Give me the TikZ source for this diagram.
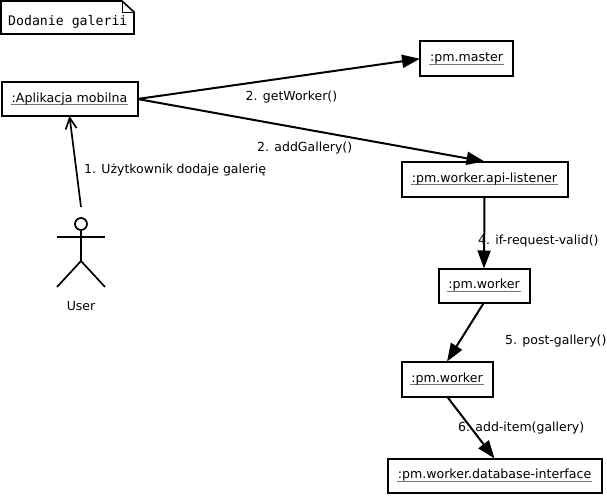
\documentclass[tikz,border=0pt]{standalone}
\usepackage{fontspec}
\setmainfont{DejaVu Sans}
\newfontfamily\notefont{DejaVu Sans Mono}
\usetikzlibrary{arrows.meta}
\newsavebox{\ulbox}
\newcommand{\ulname}[1]{\sbox{\ulbox}{#1}\rlap{\hspace{-1pt}\textcolor{ulgray}{\rule[-3.2pt]{\dimexpr\wd\ulbox+2pt\relax}{1.1pt}}}\usebox{\ulbox}}
\definecolor{ulgray}{gray}{0.45}
\tikzset{
  objbox/.style={draw=black,line width=2pt,fill=white,inner sep=0pt,outer sep=0pt,anchor=north west,font=\fontsize{12.6}{14}\selectfont,align=center},
  msg/.style={inner sep=0pt,anchor=base west,font=\fontsize{12.5}{14}\selectfont},
  call/.style={draw=black,line width=2pt,-{Triangle[length=18pt,width=13pt]}},
  stim/.style={draw=black,line width=1.7pt,-{Straight Barb[length=11pt,width=11pt,line width=1.7pt]}},
  actorline/.style={draw=black,line width=1.7pt},
  noteline/.style={draw=black,line width=1.6pt}
}
\begin{document}
\begin{tikzpicture}[x=1pt,y=-1pt]
\useasboundingbox (0,0) rectangle (607,495);
\fill[white] (0,0) rectangle (607,495);
% note
\draw[noteline,fill=white] (1,1) -- (122,1) -- (134,12) -- (134,34) -- (1,34) -- cycle;
\draw[line width=0.8pt] (122,1) -- (122,12) -- (134,12);
\node[inner sep=0pt,anchor=base west,font=\notefont\fontsize{13.2}{15}\selectfont] (note) at (8,26) {Dodanie galerii};
% objects
\node[objbox,minimum width=136pt,minimum height=34pt] (app) at (1.5,82) {\ulname{:Aplikacja mobilna}};
\node[objbox,minimum width=93pt,minimum height=34.5pt] (master) at (420,41.5) {\ulname{:pm.master}};
\node[objbox,minimum width=166pt,minimum height=35pt] (listener) at (401.5,161.5) {\ulname{:pm.worker.api-listener}};
\node[objbox,minimum width=91pt,minimum height=34pt] (workera) at (438.5,268.5) {\ulname{:pm.worker}};
\node[objbox,minimum width=91pt,minimum height=35pt] (workerb) at (401.5,361.5) {\ulname{:pm.worker}};
\node[objbox,minimum width=214pt,minimum height=34pt] (db) at (387.5,458.5) {\ulname{:pm.worker.database-interface}};
% actor
\coordinate (userfrom) at (81,207);
\node[circle,draw=black,line width=1.7pt,minimum size=12pt,inner sep=0pt] (head) at (81,224) {};
\coordinate (hip) at (81,261);
\draw[actorline] (head.south) -- (hip);
\draw[actorline] (57,237) -- (105,237);
\draw[actorline] (57,287) -- (hip) -- (105,287);
\node[msg,anchor=base] (user) at (81,310.5) {User};
% connectors
\draw[stim] (userfrom) -- (app.south);
\draw[call] (app.east) -- (master.west);
\draw[call] (app.east) -- (listener.north);
\draw[call] (listener.south) -- (workera.north);
\draw[call] (workera.south) -- (workerb.north);
\draw[call] (workerb.south) -- (db.north);
% labels
\node[msg] (l1) at (84,173.5) {1. Użytkownik dodaje galerię};
\node[msg] (l2a) at (245.5,100.5) {2. getWorker()};
\node[msg] (l2b) at (257,151.5) {2. addGallery()};
\node[msg] (l4) at (478,244.5) {4. if-request-valid()};
\node[msg] (l5) at (505,344.5) {5. post-gallery()};
\node[msg] (l6) at (458,431.5) {6. add-item(gallery)};
\end{tikzpicture}
\end{document}
